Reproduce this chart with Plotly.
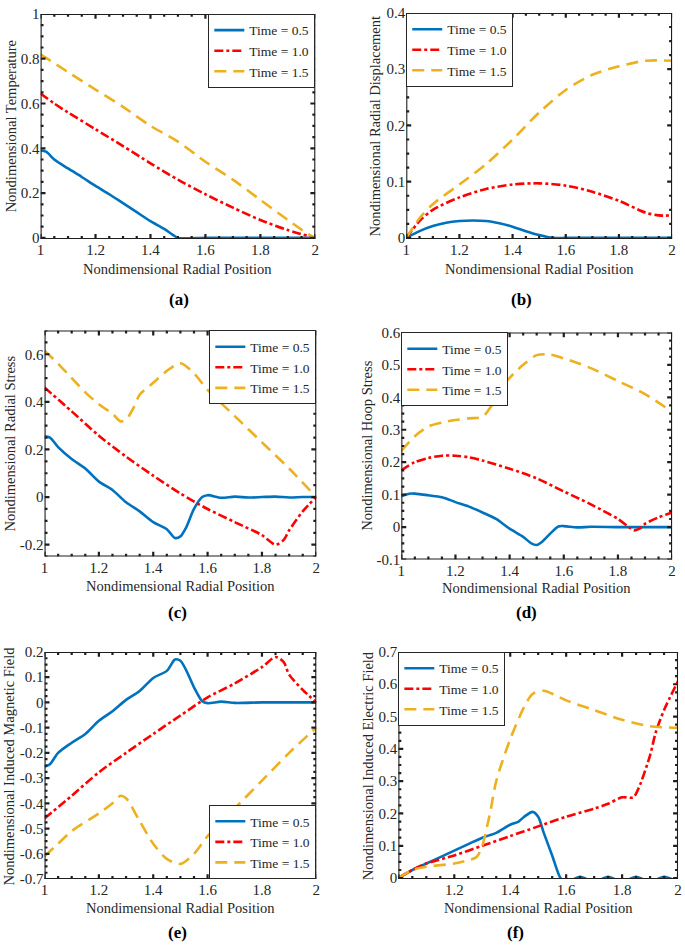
import plotly.graph_objects as go

# ---------------- data ----------------
# (a) temperature
a_x05 = [1.0, 1.02, 1.05, 1.1, 1.15, 1.2, 1.25, 1.3, 1.35, 1.4, 1.45, 1.48, 1.5, 1.6, 1.7, 1.8, 1.9, 2.0]
a_y05 = [0.39, 0.385, 0.35, 0.31, 0.272, 0.232, 0.195, 0.155, 0.115, 0.075, 0.04, 0.015, 0.0, 0.0, 0.0, 0.0, 0.0, 0.0]
a_x10 = [1.0, 1.05, 1.1, 1.2, 1.3, 1.4, 1.5, 1.6, 1.7, 1.8, 1.9, 2.0]
a_y10 = [0.645, 0.6, 0.56, 0.485, 0.41, 0.333, 0.26, 0.195, 0.135, 0.08, 0.035, 0.0]
a_x15 = [1.0, 1.1, 1.2, 1.3, 1.4, 1.5, 1.6, 1.7, 1.8, 1.9, 1.97, 2.0]
a_y15 = [0.82, 0.74, 0.662, 0.585, 0.5, 0.43, 0.34, 0.26, 0.17, 0.08, 0.02, 0.0]

# (b) radial displacement
b_x05 = [1.0, 1.05, 1.1, 1.15, 1.2, 1.25, 1.3, 1.35, 1.4, 1.45, 1.5, 1.55, 1.6, 1.8, 2.0]
b_y05 = [0.0, 0.012, 0.021, 0.027, 0.030, 0.031, 0.030, 0.026, 0.020, 0.012, 0.005, 0.0, 0.0, 0.0, 0.0]
b_x10 = [1.0, 1.05, 1.1, 1.2, 1.3, 1.4, 1.5, 1.6, 1.7, 1.8, 1.9, 1.95, 2.0]
b_y10 = [0.0, 0.03, 0.05, 0.072, 0.087, 0.095, 0.097, 0.093, 0.082, 0.066, 0.045, 0.04, 0.04]
b_x15 = [1.0, 1.05, 1.1, 1.2, 1.3, 1.4, 1.5, 1.6, 1.7, 1.8, 1.9, 2.0]
b_y15 = [0.0, 0.035, 0.06, 0.095, 0.131, 0.175, 0.223, 0.263, 0.29, 0.305, 0.315, 0.315]

# (c) radial stress
c_x05 = [1.0, 1.02, 1.05, 1.1, 1.15, 1.2, 1.25, 1.3, 1.35, 1.4, 1.45, 1.48, 1.5, 1.52, 1.55, 1.58, 1.6, 1.65, 1.7, 1.75, 1.8, 1.85, 1.9, 1.95, 2.0]
c_y05 = [0.255, 0.25, 0.21, 0.16, 0.12, 0.065, 0.03, -0.022, -0.06, -0.105, -0.135, -0.172, -0.165, -0.13, -0.05, 0.0, 0.008, -0.003, 0.002, -0.002, 0.0, 0.002, -0.002, 0.0, 0.0]
c_x10 = [1.0, 1.1, 1.2, 1.3, 1.4, 1.5, 1.6, 1.7, 1.8, 1.85, 1.88, 1.9, 1.95, 2.0]
c_y10 = [0.46, 0.36, 0.258, 0.17, 0.09, 0.015, -0.05, -0.105, -0.16, -0.2, -0.18, -0.14, -0.06, 0.0]
c_x15 = [1.0, 1.05, 1.1, 1.15, 1.2, 1.25, 1.28, 1.3, 1.33, 1.35, 1.4, 1.45, 1.5, 1.55, 1.6, 1.7, 1.8, 1.9, 2.0]
c_y15 = [0.615, 0.56, 0.5, 0.44, 0.39, 0.35, 0.318, 0.325, 0.38, 0.43, 0.48, 0.53, 0.562, 0.52, 0.45, 0.34, 0.23, 0.12, 0.0]

# (d) hoop stress
d_x05 = [1.0, 1.03, 1.05, 1.1, 1.15, 1.2, 1.25, 1.3, 1.35, 1.4, 1.45, 1.48, 1.5, 1.52, 1.55, 1.58, 1.6, 1.65, 1.7, 1.8, 1.9, 2.0]
d_y05 = [0.095, 0.103, 0.103, 0.098, 0.092, 0.077, 0.063, 0.045, 0.025, -0.005, -0.03, -0.05, -0.055, -0.045, -0.02, 0.002, 0.003, -0.001, 0.001, 0.0, 0.0, 0.0]
d_x10 = [1.0, 1.05, 1.1, 1.15, 1.2, 1.25, 1.3, 1.4, 1.5, 1.6, 1.7, 1.8, 1.84, 1.86, 1.88, 1.9, 1.95, 2.0]
d_y10 = [0.175, 0.2, 0.213, 0.22, 0.22, 0.215, 0.205, 0.18, 0.15, 0.11, 0.07, 0.025, 0.0, -0.01, -0.005, 0.01, 0.03, 0.045]
d_x15 = [1.0, 1.05, 1.1, 1.15, 1.2, 1.25, 1.3, 1.33, 1.37, 1.4, 1.45, 1.5, 1.55, 1.6, 1.7, 1.8, 1.9, 2.0]
d_y15 = [0.235, 0.28, 0.31, 0.322, 0.33, 0.335, 0.34, 0.37, 0.43, 0.46, 0.5, 0.53, 0.532, 0.52, 0.49, 0.45, 0.41, 0.355]

# (e) induced magnetic field
e_x05 = [1.0, 1.02, 1.05, 1.1, 1.15, 1.2, 1.25, 1.3, 1.35, 1.4, 1.45, 1.48, 1.5, 1.52, 1.55, 1.58, 1.6, 1.65, 1.7, 1.8, 1.9, 2.0]
e_y05 = [-0.255, -0.245, -0.2, -0.16, -0.125, -0.073, -0.035, 0.01, 0.045, 0.097, 0.125, 0.17, 0.165, 0.13, 0.06, 0.005, -0.003, 0.003, -0.002, 0.0, 0.0, 0.0]
e_x10 = [1.0, 1.1, 1.2, 1.3, 1.4, 1.5, 1.6, 1.7, 1.8, 1.85, 1.88, 1.9, 1.95, 2.0]
e_y10 = [-0.46, -0.37, -0.277, -0.2, -0.125, -0.052, 0.02, 0.075, 0.14, 0.18, 0.16, 0.11, 0.05, 0.0]
e_x15 = [1.0, 1.05, 1.1, 1.2, 1.25, 1.28, 1.3, 1.35, 1.4, 1.45, 1.5, 1.55, 1.6, 1.7, 1.8, 1.9, 2.0]
e_y15 = [-0.61, -0.56, -0.51, -0.44, -0.4, -0.37, -0.38, -0.47, -0.56, -0.62, -0.64, -0.6, -0.53, -0.42, -0.31, -0.2, -0.1]

# (f) induced electric field
f_x05 = [1.0, 1.05, 1.1, 1.15, 1.2, 1.25, 1.3, 1.35, 1.4, 1.43, 1.45, 1.48, 1.5, 1.52, 1.55, 1.58, 1.6, 1.65, 1.7, 1.75, 1.8, 1.85, 1.9, 1.95, 2.0]
f_y05 = [0.0, 0.025, 0.045, 0.065, 0.085, 0.105, 0.125, 0.14, 0.165, 0.175, 0.19, 0.205, 0.19, 0.14, 0.07, 0.0, -0.012, 0.004, -0.012, 0.004, -0.012, 0.004, -0.012, 0.004, -0.012]
f_x10 = [1.0, 1.05, 1.1, 1.2, 1.3, 1.4, 1.5, 1.6, 1.7, 1.75, 1.8, 1.84, 1.86, 1.9, 1.92, 1.95, 2.0]
f_y10 = [0.0, 0.025, 0.045, 0.07, 0.1, 0.13, 0.16, 0.19, 0.215, 0.23, 0.25, 0.25, 0.28, 0.38, 0.45, 0.52, 0.61]
f_x15 = [1.0, 1.05, 1.1, 1.2, 1.25, 1.28, 1.3, 1.32, 1.33, 1.35, 1.4, 1.45, 1.48, 1.52, 1.6, 1.7, 1.8, 1.9, 2.0]
f_y15 = [0.0, 0.025, 0.035, 0.045, 0.055, 0.065, 0.1, 0.17, 0.21, 0.3, 0.43, 0.53, 0.57, 0.58, 0.55, 0.52, 0.49, 0.47, 0.465]

series_names = ["Time = 0.5", "Time = 1.0", "Time = 1.5"]
x_label = "Nondimensional Radial Position"
y_labels = ["Nondimensional Temperature", "Nondimensional Radial Displacement",
            "Nondimensional Radial Stress", "Nondimensional Hoop Stress",
            "Nondimensional Induced Magnetic Field", "Nondimensional Induced Electric Field"]
panel_labels = ["(a)", "(b)", "(c)", "(d)", "(e)", "(f)"]

x_range = [1.0, 2.0]
x_ticks = [1.0, 1.2, 1.4, 1.6, 1.8, 2.0]
x_ticktext = ["1", "1.2", "1.4", "1.6", "1.8", "2"]
x_ticktext_f = ["", "1.2", "1.4", "1.6", "1.8", "2"]
x_minor = 0.05

y_ranges = [[-0.005, 1], [-0.002, 0.4], [-0.25, 0.7], [-0.1, 0.6], [-0.7, 0.2], [-0.003, 0.7]]
y_ticks = [
    [0, 0.2, 0.4, 0.6, 0.8, 1.0],
    [0, 0.1, 0.2, 0.3, 0.4],
    [-0.2, 0, 0.2, 0.4, 0.6],
    [-0.1, 0, 0.1, 0.2, 0.3, 0.4, 0.5, 0.6],
    [-0.7, -0.6, -0.5, -0.4, -0.3, -0.2, -0.1, 0, 0.1, 0.2],
    [0, 0.1, 0.2, 0.3, 0.4, 0.5, 0.6, 0.7],
]
y_ticktext = [
    ["0", "0.2", "0.4", "0.6", "0.8", "1"],
    ["0", "0.1", "0.2", "0.3", "0.4"],
    ["-0.2", "0", "0.2", "0.4", "0.6"],
    ["-0.1", "0", "0.1", "0.2", "0.3", "0.4", "0.5", "0.6"],
    ["-0.7", "-0.6", "-0.5", "-0.4", "-0.3", "-0.2", "-0.1", "0", "0.1", "0.2"],
    ["0", "0.1", "0.2", "0.3", "0.4", "0.5", "0.6", "0.7"],
]
y_minor = [0.05, 0.025, 0.05, 0.025, 0.025, 0.025]

panels_data = [
    [(a_x05, a_y05), (a_x10, a_y10), (a_x15, a_y15)],
    [(b_x05, b_y05), (b_x10, b_y10), (b_x15, b_y15)],
    [(c_x05, c_y05), (c_x10, c_y10), (c_x15, c_y15)],
    [(d_x05, d_y05), (d_x10, d_y10), (d_x15, d_y15)],
    [(e_x05, e_y05), (e_x10, e_y10), (e_x15, e_y15)],
    [(f_x05, f_y05), (f_x10, f_y10), (f_x15, f_y15)],
]

# ---------------- layout geometry (pixels) ----------------
W, H = 685, 948
boxes = [
    (37, 315, 6, 235),
    (407, 676, 5, 235),
    (41, 316, 328, 558),
    (402, 676, 330, 561),
    (41, 316, 655, 886),
    (399, 682, 655, 886),
]
ytitle_x = [8, 375, 6, 367, 6, 369]
xtitle_y = [265, 265, 588, 590, 915, 915]
label_pos = [(177, 296), (524, 296), (176, 615), (529, 615), (176, 940), (518, 940)]
legend_pos = [
    (315, 6, "right", "top"),
    (407, 5, "left", "top"),
    (316, 328, "right", "top"),
    (402, 330, "left", "top"),
    (316, 886, "right", "bottom"),
    (399, 655, "left", "top"),
]

colors = ["#0072BD", "#FF0000", "#EDB120"]
dashes = ["solid", "9px,3px,3px,3px", "12px,7px"]
FONT = "Liberation Serif"
TEXT = "#262626"
FRAME = "rgb(30,30,30)"
MAJOR_LEN = 5
MINOR_LEN = 3

def px(x):
    return x / W

def py(y):
    return 1 - y / H

def steps(lo, hi, d):
    out = []
    k = int(round(lo / d)) - 1
    while k * d <= hi + 1e-9:
        v = round(k * d, 6)
        if v >= lo - 1e-9:
            out.append(v)
        k += 1
    return out

fig = go.Figure()
layout = dict(
    width=W, height=H, margin=dict(l=0, r=0, t=0, b=0, pad=0),
    paper_bgcolor="white", plot_bgcolor="white",
    font=dict(family=FONT, size=14, color=TEXT),
    showlegend=True,
)
annotations = []

for i in range(6):
    n = i + 1
    xa = "xaxis" if n == 1 else f"xaxis{n}"
    ya = "yaxis" if n == 1 else f"yaxis{n}"
    xref = "x" if n == 1 else f"x{n}"
    yref = "y" if n == 1 else f"y{n}"
    leg = "legend" if n == 1 else f"legend{n}"
    l, r, t, b = boxes[i]
    wpx, hpx = r - l, b - t
    xlo, xhi = x_range
    ylo, yhi = y_ranges[i]
    layout[xa] = dict(
        domain=[px(l), px(r)], anchor=yref, range=list(x_range),
        tickmode="array", tickvals=x_ticks,
        ticktext=x_ticktext_f if i == 5 else x_ticktext,
        ticks="", showline=False, showgrid=False, zeroline=False,
        tickfont=dict(family=FONT, size=15, color=TEXT),
    )
    layout[ya] = dict(
        domain=[py(b), py(t)], anchor=xref, range=list(y_ranges[i]),
        tickmode="array", tickvals=y_ticks[i], ticktext=y_ticktext[i],
        ticks="", showline=False, showgrid=False, zeroline=False,
        tickfont=dict(family=FONT, size=15, color=TEXT),
    )
    lx, ly, xan, yan = legend_pos[i]
    layout[leg] = dict(
        x=px(lx), y=py(ly), xanchor=xan, yanchor=yan, xref="paper", yref="paper",
        bgcolor="white", bordercolor=TEXT, borderwidth=1,
        font=dict(family=FONT, size=13.5, color=TEXT),
        tracegroupgap=0, itemwidth=30,
    )
    for k, (xs, ys) in enumerate(panels_data[i]):
        fig.add_trace(go.Scatter(
            x=xs, y=ys, mode="lines", name=series_names[k],
            line=dict(color=colors[k], width=2.6, dash=dashes[k], shape="spline", smoothing=0.8),
            xaxis=xref, yaxis=yref, legend=leg, showlegend=True,
        ))
    # inside ticks on all four sides plus the box frame, as one trace of segments
    dx = (xhi - xlo) / wpx
    dy = (yhi - ylo) / hpx
    tx = [xlo, xhi, xhi, xlo, xlo, None]
    ty = [ylo, ylo, yhi, yhi, ylo, None]
    for v in steps(xlo, xhi, x_minor):
        major = any(abs(v - tv) < 1e-6 for tv in x_ticks)
        L = MAJOR_LEN if major else MINOR_LEN
        tx += [v, v, None, v, v, None]
        ty += [ylo, ylo + L * dy, None, yhi, yhi - L * dy, None]
    for v in steps(ylo, yhi, y_minor[i]):
        major = any(abs(v - tv) < 1e-6 for tv in y_ticks[i])
        L = MAJOR_LEN if major else MINOR_LEN
        tx += [xlo, xlo + L * dx, None, xhi, xhi - L * dx, None]
        ty += [v, v, None, v, v, None]
    fig.add_trace(go.Scatter(
        x=tx, y=ty, mode="lines", name="frame", line=dict(color=FRAME, width=2.2),
        xaxis=xref, yaxis=yref, legend=leg, showlegend=False, hoverinfo="skip",
    ))
    annotations.append(dict(
        x=px((l + r) / 2), y=py(xtitle_y[i]), xref="paper", yref="paper",
        text=x_label, showarrow=False, xanchor="center", yanchor="middle",
        font=dict(family=FONT, size=14.5, color=TEXT),
    ))
    annotations.append(dict(
        x=px(ytitle_x[i]), y=py((t + b) / 2), xref="paper", yref="paper",
        text=y_labels[i], showarrow=False, xanchor="center", yanchor="middle",
        textangle=-90, font=dict(family=FONT, size=14.5, color=TEXT),
    ))
    lxp, lyp = label_pos[i]
    annotations.append(dict(
        x=px(lxp), y=py(lyp), xref="paper", yref="paper",
        text="<b>" + panel_labels[i] + "</b>", showarrow=False,
        xanchor="center", yanchor="middle",
        font=dict(family=FONT, size=17, color="black"),
    ))

layout["annotations"] = annotations
fig.update_layout(**layout)
fig.write_html(
    "out.html",
    config={"displayModeBar": False},
    post_script="document.body.style.margin='0';document.body.style.padding='0';document.body.style.overflow='hidden';",
)
